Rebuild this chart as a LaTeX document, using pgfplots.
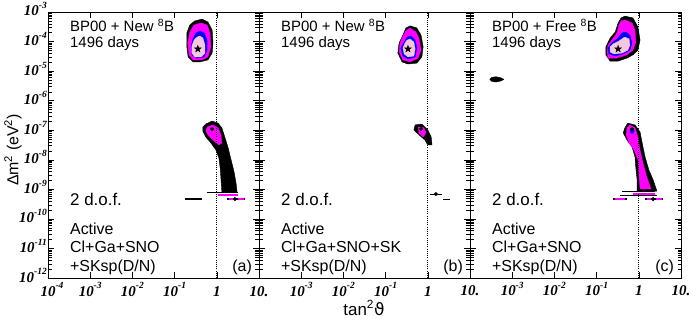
\documentclass[border=0pt]{standalone}
\usepackage{fontspec}
\setmainfont{Liberation Sans}
\newfontfamily\tickfamily{Liberation Serif}
\newfontfamily\dejavu{DejaVu Sans}
\usepackage{pgfplots}
\pgfplotsset{compat=1.18}
\definecolor{mag}{RGB}{255,0,255}
\definecolor{blu}{RGB}{0,0,255}
\definecolor{pnk}{RGB}{245,200,225}
\newcommand\tsup[1]{\textsuperscript{#1}}
\newcommand\tk{\tickfamily\bfseries\itshape\fontsize{15}{15}\selectfont}
\newcommand\tl[1]{10\raisebox{0.47em}{\fontsize{9.5}{9.5}\selectfont #1}}
\pgfdeclareplotmark{fstar}{%
  \pgfpathmoveto{\pgfpointpolar{90}{\pgfplotmarksize}}%
  \pgfpathlineto{\pgfpointpolar{126}{0.4\pgfplotmarksize}}%
  \pgfpathlineto{\pgfpointpolar{162}{\pgfplotmarksize}}%
  \pgfpathlineto{\pgfpointpolar{198}{0.4\pgfplotmarksize}}%
  \pgfpathlineto{\pgfpointpolar{234}{\pgfplotmarksize}}%
  \pgfpathlineto{\pgfpointpolar{270}{0.4\pgfplotmarksize}}%
  \pgfpathlineto{\pgfpointpolar{306}{\pgfplotmarksize}}%
  \pgfpathlineto{\pgfpointpolar{342}{0.4\pgfplotmarksize}}%
  \pgfpathlineto{\pgfpointpolar{18}{\pgfplotmarksize}}%
  \pgfpathlineto{\pgfpointpolar{54}{0.4\pgfplotmarksize}}%
  \pgfpathclose
  \pgfusepathqfillstroke
}
\tikzset{
  txt/.style={anchor=base west, inner sep=0pt, font=\fontsize{15}{15}\selectfont},
  txtb/.style={anchor=base west, inner sep=0pt, font=\fontsize{16}{16}\selectfont},
  txtd/.style={anchor=base west, inner sep=0pt, font=\fontsize{17}{17}\selectfont},
  txtp/.style={anchor=base east, inner sep=0pt, font=\fontsize{16}{16}\selectfont},
}
\pgfplotsset{
  panel/.style={
    scale only axis, width=211bp, height=266bp, anchor=south west,
    xmin=-4, xmax=1, ymin=-12, ymax=-3,
    xtick={-4,-3,-2,-1,0,1}, ytick={-12,-11,-10,-9,-8,-7,-6,-5,-4,-3},
    minor ytick={-11.699,-11.523,-11.398,-11.301,-11.222,-11.155,-11.097,-11.046,
      -10.699,-10.523,-10.398,-10.301,-10.222,-10.155,-10.097,-10.046,
      -9.699,-9.523,-9.398,-9.301,-9.222,-9.155,-9.097,-9.046,
      -8.699,-8.523,-8.398,-8.301,-8.222,-8.155,-8.097,-8.046,
      -7.699,-7.523,-7.398,-7.301,-7.222,-7.155,-7.097,-7.046,
      -6.699,-6.523,-6.398,-6.301,-6.222,-6.155,-6.097,-6.046,
      -5.699,-5.523,-5.398,-5.301,-5.222,-5.155,-5.097,-5.046,
      -4.699,-4.523,-4.398,-4.301,-4.222,-4.155,-4.097,-4.046,
      -3.699,-3.523,-3.398,-3.301,-3.222,-3.155,-3.097,-3.046},
    tick align=inside, major tick length=6bp, minor tick length=3.5bp,
    every tick/.style={black, line width=0.5bp},
    axis line style={line width=0.7bp},
    ticklabel style={font=\tk},
    yticklabel style={anchor=base east, inner sep=0pt, xshift=-1bp, yshift=-4bp},
    xticklabel style={anchor=base, inner sep=0pt, yshift=-18bp},
  },
  blk/.style={fill=black, draw=black, line width=0.4bp},
  mg/.style={fill=mag, draw=mag, line width=0.3bp},
  bl/.style={fill=blu, draw=blu, line width=0.3bp},
  pk/.style={fill=pnk, draw=pnk, line width=0.3bp},
  dotline/.style={black, line width=0.7bp, dash pattern=on 0.8bp off 1.4bp},
  bestfit/.style={only marks, mark=fstar, mark size=3.6bp, mark options={fill=black, draw=black}},
  dot/.style={only marks, mark=*, mark size=1.8bp, mark options={fill=black, draw=black}},
}
\begin{document}
\begin{tikzpicture}
% ---------------- panel (a)
\begin{axis}[panel, at={(48bp,41bp)},
  xticklabels={\hspace*{8bp}\tl{-4},\tl{-3},\tl{-2},\tl{-1},1,{}},
  yticklabels={\tl{-12},\tl{-11},\tl{-10},\tl{-9},\tl{-8},\tl{-7},\tl{-6},\tl{-5},\tl{-4},\tl{-3}}]
\addplot[blk] coordinates {(-0.35,-3.24) (-0.21,-3.34) (-0.11,-3.61) (-0.09,-4.05) (-0.11,-4.39) (-0.21,-4.62) (-0.40,-4.69) (-0.56,-4.69) (-0.68,-4.52) (-0.71,-4.18) (-0.71,-3.71) (-0.64,-3.44) (-0.52,-3.30)} -- cycle;
\addplot[mg] coordinates {(-0.37,-3.37) (-0.23,-3.44) (-0.16,-3.71) (-0.14,-4.18) (-0.21,-4.52) (-0.35,-4.62) (-0.56,-4.62) (-0.66,-4.45) (-0.69,-4.05) (-0.64,-3.68) (-0.54,-3.44)} -- cycle;
\addplot[bl] coordinates {(-0.40,-3.64) (-0.30,-3.71) (-0.23,-3.95) (-0.23,-4.29) (-0.30,-4.52) (-0.47,-4.56) (-0.59,-4.45) (-0.61,-4.18) (-0.56,-3.88) (-0.49,-3.71)} -- cycle;
\addplot[pk] coordinates {(-0.40,-3.81) (-0.33,-3.88) (-0.28,-4.12) (-0.28,-4.39) (-0.37,-4.52) (-0.52,-4.52) (-0.59,-4.39) (-0.59,-4.15) (-0.54,-3.95) (-0.47,-3.85)} -- cycle;
\addplot[bestfit] coordinates {(-0.45,-4.25)};
\addplot[blk] coordinates {(-0.26,-6.79) (-0.11,-6.69) (0.03,-6.76) (0.12,-6.92) (0.19,-7.23) (0.27,-7.60) (0.34,-8.01) (0.41,-8.41) (0.46,-8.82) (0.48,-9.09) (0.12,-9.09) (0.10,-8.68) (0.08,-8.28) (0.05,-7.94) (-0.02,-7.67) (-0.14,-7.43) (-0.26,-7.23) (-0.33,-7.03) (-0.33,-6.89)} -- cycle;
\addplot[mg] coordinates {(-0.23,-6.89) (-0.09,-6.82) (0.03,-6.92) (0.10,-7.16) (0.12,-7.43) (0.05,-7.50) (-0.07,-7.36) (-0.19,-7.20) (-0.26,-7.03)} -- cycle;
\addplot[dot] coordinates {(-0.11,-6.96)};
\addplot[black, line width=1.2bp] coordinates {(-0.23,-9.12) (0.50,-9.12)};
\addplot[mag, line width=1.6bp] coordinates {(0.03,-9.19) (0.50,-9.19)};
\addplot[black, line width=1.2bp] coordinates {(-0.75,-9.33) (-0.35,-9.33)};
\addplot[black, line width=1.4bp] coordinates {(0.24,-9.33) (0.67,-9.33)};
\addplot[mag, line width=1.6bp] coordinates {(0.29,-9.33) (0.38,-9.33)};
\addplot[mag, line width=1.6bp] coordinates {(0.50,-9.33) (0.64,-9.33)};
\addplot[dot] coordinates {(0.43,-9.33)};
\addplot[dotline] coordinates {(0,-12) (0,-3)};
\node[txt] at (rel axis cs:0.104,0.925) {BP00 + New \tsup{8}B};
\node[txt] at (rel axis cs:0.104,0.868) {1496 days};
\node[txtd] at (rel axis cs:0.104,0.274) {2 d.o.f.};
\node[txtb] at (rel axis cs:0.104,0.162) {Active};
\node[txtb] at (rel axis cs:0.104,0.094) {Cl+Ga+SNO};
\node[txtb] at (rel axis cs:0.104,0.026) {+SKsp(D/N)};
\node[txtp] at (rel axis cs:0.967,0.026) {(a)};
\end{axis}
% ---------------- panel (b)
\begin{axis}[panel, at={(259bp,41bp)},
  xticklabels={10.,\tl{-3},\tl{-2},\tl{-1},1,{}},
  yticklabels={}]
\addplot[blk] coordinates {(-0.42,-3.47) (-0.26,-3.54) (-0.16,-3.78) (-0.11,-4.18) (-0.14,-4.52) (-0.26,-4.73) (-0.47,-4.76) (-0.61,-4.69) (-0.71,-4.39) (-0.68,-4.05) (-0.59,-3.78) (-0.52,-3.54)} -- cycle;
\addplot[mg] coordinates {(-0.42,-3.54) (-0.28,-3.68) (-0.21,-3.88) (-0.16,-4.29) (-0.23,-4.56) (-0.42,-4.69) (-0.59,-4.62) (-0.68,-4.35) (-0.66,-4.05) (-0.59,-3.81) (-0.52,-3.64)} -- cycle;
\addplot[bl] coordinates {(-0.40,-3.81) (-0.30,-3.95) (-0.26,-4.22) (-0.30,-4.52) (-0.47,-4.59) (-0.59,-4.49) (-0.64,-4.22) (-0.56,-4.02) (-0.49,-3.85)} -- cycle;
\addplot[pk] coordinates {(-0.42,-3.91) (-0.33,-4.02) (-0.30,-4.25) (-0.33,-4.49) (-0.47,-4.52) (-0.56,-4.42) (-0.59,-4.22) (-0.54,-4.05) (-0.49,-3.95)} -- cycle;
\addplot[bestfit] coordinates {(-0.47,-4.25)};
\addplot[blk] coordinates {(-0.30,-6.82) (-0.14,-6.79) (0.00,-6.99) (0.08,-7.23) (0.10,-7.50) (0.00,-7.50) (-0.07,-7.33) (-0.23,-7.13) (-0.33,-6.99)} -- cycle;
\addplot[mg] coordinates {(-0.23,-6.89) (-0.09,-6.92) (-0.04,-7.09) (-0.11,-7.23) (-0.21,-7.09)} -- cycle;
\addplot[dot] coordinates {(-0.16,-6.96)};
\addplot[black, line width=1.0bp] coordinates {(0.05,-9.16) (0.34,-9.16)};
\addplot[dot] coordinates {(0.19,-9.16)};
\addplot[black, line width=1.0bp] coordinates {(0.36,-9.33) (0.53,-9.33)};
\addplot[dotline] coordinates {(0,-12) (0,-3)};
\node[txt] at (rel axis cs:0.104,0.925) {BP00 + New \tsup{8}B};
\node[txt] at (rel axis cs:0.104,0.868) {1496 days};
\node[txtd] at (rel axis cs:0.104,0.274) {2 d.o.f.};
\node[txtb] at (rel axis cs:0.104,0.162) {Active};
\node[txtb] at (rel axis cs:0.104,0.094) {Cl+Ga+SNO+SK};
\node[txtb] at (rel axis cs:0.104,0.026) {+SKsp(D/N)};
\node[txtp] at (rel axis cs:0.967,0.026) {(b)};
\end{axis}
% ---------------- panel (c)
\begin{axis}[panel, at={(470bp,41bp)},
  xticklabels={10.,\tl{-3},\tl{-2},\tl{-1},1,10.},
  yticklabels={}]
\addplot[blk] coordinates {(-0.33,-3.14) (-0.14,-3.20) (-0.02,-3.51) (0.03,-3.95) (-0.02,-4.29) (-0.14,-4.45) (-0.28,-4.56) (-0.49,-4.66) (-0.68,-4.66) (-0.78,-4.45) (-0.78,-4.18) (-0.68,-3.88) (-0.56,-3.68) (-0.49,-3.37) (-0.42,-3.20)} -- cycle;
\addplot[mg] coordinates {(-0.33,-3.27) (-0.16,-3.37) (-0.09,-3.61) (-0.07,-4.02) (-0.14,-4.29) (-0.28,-4.45) (-0.52,-4.56) (-0.73,-4.56) (-0.75,-4.35) (-0.73,-4.12) (-0.64,-3.95) (-0.52,-3.71) (-0.47,-3.44) (-0.42,-3.30)} -- cycle;
\addplot[bl] coordinates {(-0.30,-3.68) (-0.21,-3.78) (-0.16,-4.05) (-0.21,-4.29) (-0.37,-4.42) (-0.56,-4.49) (-0.71,-4.42) (-0.73,-4.22) (-0.64,-4.05) (-0.49,-3.88) (-0.40,-3.71)} -- cycle;
\addplot[pk] coordinates {(-0.33,-3.85) (-0.23,-3.91) (-0.21,-4.12) (-0.26,-4.29) (-0.40,-4.39) (-0.59,-4.42) (-0.68,-4.35) (-0.68,-4.18) (-0.61,-4.08) (-0.47,-3.98) (-0.37,-3.88)} -- cycle;
\addplot[bestfit] coordinates {(-0.49,-4.25)};
\addplot[blk] coordinates {(-3.53,-5.28) (-3.48,-5.21) (-3.38,-5.19) (-3.26,-5.23) (-3.20,-5.28) (-3.26,-5.33) (-3.38,-5.37) (-3.48,-5.35)} -- cycle;
\addplot[blk] coordinates {(-0.26,-6.76) (-0.09,-6.82) (0.03,-7.06) (0.08,-7.43) (0.15,-7.91) (0.24,-8.35) (0.34,-8.68) (0.43,-9.06) (-0.04,-9.06) (-0.04,-8.68) (-0.07,-8.28) (-0.09,-7.91) (-0.16,-7.57) (-0.28,-7.33) (-0.37,-7.09) (-0.33,-6.92)} -- cycle;
\addplot[mg] coordinates {(-0.21,-6.82) (-0.09,-6.92) (-0.02,-7.23) (0.03,-7.67) (0.10,-8.11) (0.19,-8.58) (0.29,-8.99) (0.03,-8.99) (0.00,-8.45) (-0.02,-8.01) (-0.11,-7.67) (-0.23,-7.43) (-0.30,-7.16) (-0.28,-6.92)} -- cycle;
\addplot[bl] coordinates {(-0.19,-6.93) (-0.13,-6.93) (-0.11,-7.02) (-0.13,-7.10) (-0.18,-7.11) (-0.21,-7.03)} -- cycle;
\addplot[dot] coordinates {(-0.16,-6.96)};
\addplot[black, line width=1.0bp] coordinates {(-0.40,-9.09) (0.38,-9.09)};
\addplot[mag, line width=1.8bp] coordinates {(-0.14,-9.15) (0.38,-9.15)};
\addplot[black, line width=1.0bp] coordinates {(-0.45,-9.20) (0.43,-9.20)};
\addplot[black, line width=1.4bp] coordinates {(-0.61,-9.33) (-0.28,-9.33)};
\addplot[mag, line width=1.6bp] coordinates {(-0.56,-9.33) (-0.33,-9.33)};
\addplot[black, line width=1.4bp] coordinates {(0.15,-9.33) (0.57,-9.33)};
\addplot[mag, line width=1.6bp] coordinates {(0.20,-9.33) (0.30,-9.33)};
\addplot[mag, line width=1.6bp] coordinates {(0.40,-9.33) (0.55,-9.33)};
\addplot[dot] coordinates {(0.34,-9.33)};
\addplot[dotline] coordinates {(0,-12) (0,-3)};
\node[txt] at (rel axis cs:0.104,0.925) {BP00 + Free \tsup{8}B};
\node[txt] at (rel axis cs:0.104,0.868) {1496 days};
\node[txtd] at (rel axis cs:0.104,0.274) {2 d.o.f.};
\node[txtb] at (rel axis cs:0.104,0.162) {Active};
\node[txtb] at (rel axis cs:0.104,0.094) {Cl+Ga+SNO};
\node[txtb] at (rel axis cs:0.104,0.026) {+SKsp(D/N)};
\node[txtp] at (rel axis cs:0.967,0.026) {(c)};
\end{axis}
\node[rotate=90, font=\fontsize{16}{16}\selectfont] at (13bp,169bp) {Δm\tsup{2} (eV\tsup{2})};
\node[font=\fontsize{17}{17}\selectfont] at (364bp,11bp) {tan\tsup{2}{\dejavu ϑ}};
\pgfresetboundingbox
\useasboundingbox (0,0) rectangle (692bp,319bp);
\end{tikzpicture}
\end{document}
